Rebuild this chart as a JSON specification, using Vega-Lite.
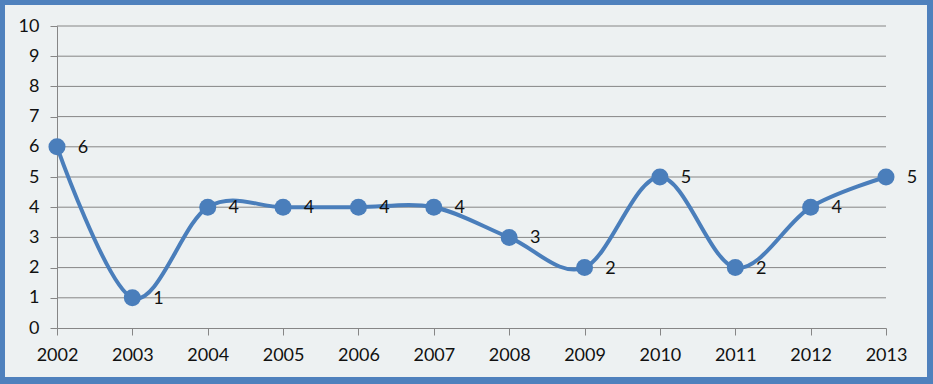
{
  "$schema": "https://vega.github.io/schema/vega-lite/v6.json",
  "width": 922,
  "height": 372,
  "autosize": {"type": "none"},
  "padding": {"left": 5, "top": 5, "right": 6, "bottom": 7},
  "background": "#4f81bd",
  "config": {
    "view": {"fill": "#edf1f2", "stroke": null},
    "font": "Lato",
    "axis": {
      "grid": false,
      "domainColor": "#868686",
      "tickColor": "#868686",
      "tickSize": 7,
      "labelFont": "Lato",
      "labelFontSize": 18,
      "labelColor": "#111111",
      "title": null
    },
    "axisX": {"offset": -49, "labelAngle": 0, "labelPadding": 11},
    "axisY": {"offset": -52, "labelPadding": 11, "values": [0,1,2,3,4,5,6,7,8,9,10]}
  },
  "datasets": {
    "counts": [
      {"year": "2002", "count": 6},
      {"year": "2003", "count": 1},
      {"year": "2004", "count": 4},
      {"year": "2005", "count": 4},
      {"year": "2006", "count": 4},
      {"year": "2007", "count": 4},
      {"year": "2008", "count": 3},
      {"year": "2009", "count": 2},
      {"year": "2010", "count": 5},
      {"year": "2011", "count": 2},
      {"year": "2012", "count": 4},
      {"year": "2013", "count": 5}
    ],
    "grid": [
      {"v": 1}, {"v": 2}, {"v": 3}, {"v": 4}, {"v": 5},
      {"v": 6}, {"v": 7}, {"v": 8}, {"v": 9}, {"v": 10}
    ]
  },
  "layer": [
    {
      "data": {"name": "grid"},
      "mark": {"type": "rule", "color": "#868686", "strokeWidth": 1},
      "encoding": {
        "y": {"field": "v", "type": "quantitative", "title": null,
              "scale": {"domain": [0, 10], "range": [323, 21], "nice": false, "zero": true}},
        "x": {"datum": "2002", "type": "ordinal"},
        "x2": {"datum": "2013"}
      }
    },
    {
      "data": {"name": "counts"},
      "mark": {"type": "line", "interpolate": "cardinal", "color": "#4a7ebb", "strokeWidth": 4},
      "encoding": {
        "x": {"field": "year", "type": "ordinal", "title": null,
              "scale": {"type": "point", "range": [52, 881], "padding": 0,
                        "domain": ["2002","2003","2004","2005","2006","2007","2008","2009","2010","2011","2012","2013"]}},
        "y": {"field": "count", "type": "quantitative", "title": null}
      }
    },
    {
      "data": {"name": "counts"},
      "mark": {"type": "circle", "size": 290, "color": "#4a7ebb", "opacity": 1},
      "encoding": {
        "x": {"field": "year", "type": "ordinal", "title": null},
        "y": {"field": "count", "type": "quantitative", "title": null}
      }
    },
    {
      "data": {"name": "counts"},
      "mark": {"type": "text", "dx": 26, "dy": 1, "align": "center", "baseline": "middle", "fontSize": 18, "font": "Lato", "color": "#111111"},
      "encoding": {
        "x": {"field": "year", "type": "ordinal", "title": null},
        "y": {"field": "count", "type": "quantitative", "title": null},
        "text": {"field": "count", "type": "quantitative"}
      }
    }
  ]
}
